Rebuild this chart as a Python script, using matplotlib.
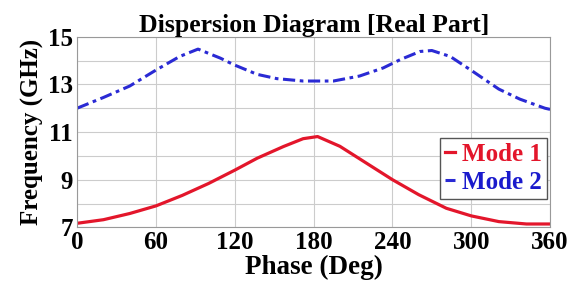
import matplotlib
matplotlib.use('Agg')
import matplotlib.pyplot as plt
import numpy as np

plt.rcParams['font.family'] = ['Liberation Serif', 'DejaVu Serif']
plt.rcParams['font.weight'] = 'bold'

# Mode 1 (red, solid)
phase1 = [0, 20, 40, 60, 80, 100, 120, 137, 157, 172, 183, 200, 220, 240, 260, 281, 300, 321, 342, 360]
mode1 = [7.17, 7.32, 7.58, 7.9, 8.34, 8.84, 9.4, 9.9, 10.39, 10.72, 10.81, 10.4, 9.7, 9.0, 8.37, 7.8, 7.48, 7.24, 7.14, 7.14]

# Mode 2 (blue, dash-dot)
phase2 = [0, 20, 40, 60, 78, 92, 109, 119, 137, 152, 172, 195, 215, 233, 246, 261, 270, 284, 301, 321, 337, 356, 360]
mode2 = [12.0, 12.45, 12.93, 13.6, 14.17, 14.48, 14.1, 13.83, 13.42, 13.24, 13.14, 13.14, 13.35, 13.69, 14.04, 14.38, 14.42, 14.17, 13.55, 12.8, 12.38, 12.0, 11.95]

x_ticks = [0, 60, 120, 180, 240, 300, 360]
y_ticks = [7, 9, 11, 13, 15]

fig = plt.figure(figsize=(5.76, 2.96), dpi=100)
ax = fig.add_axes([0.134, 0.232, 0.821, 0.644])

ax.plot(phase1, mode1, color='#e3162b', lw=2.3, label='Mode 1')
ax.plot(phase2, mode2, color='#2a2ad4', lw=2.2, ls=(0, (4, 1.5, 1.2, 1.5)), label='Mode 2')

ax.set_xlim(0, 360)
ax.set_ylim(7, 15)
ax.set_xticks(x_ticks)
ax.set_yticks(y_ticks)
ax.set_yticks([8, 10, 12, 14], minor=True)
ax.grid(True, which='both', color='#cccccc', lw=0.8)
ax.tick_params(which='both', length=0, labelsize=18, pad=3)
for s in ax.spines.values():
    s.set_color('#999999')
    s.set_linewidth(0.8)

ax.set_title('Dispersion Diagram [Real Part]', fontsize=18.5, fontweight='bold', pad=3)
ax.set_xlabel('Phase (Deg)', fontsize=19.5, fontweight='bold', labelpad=0)
ax.set_ylabel('Frequency (GHz)', fontsize=18, fontweight='bold', labelpad=3)

leg = ax.legend(loc='center right', bbox_to_anchor=(0.996, 0.31), borderaxespad=0.05,
                fontsize=18, handlelength=0.4, handletextpad=0.3, borderpad=0.2,
                labelspacing=0.2, fancybox=False, framealpha=1, edgecolor='#555555')
leg.get_frame().set_linewidth(1.0)
for txt, c in zip(leg.get_texts(), ['#e3162b', '#1a1acc']):
    txt.set_color(c)

fig.savefig('out.png', dpi=100)
